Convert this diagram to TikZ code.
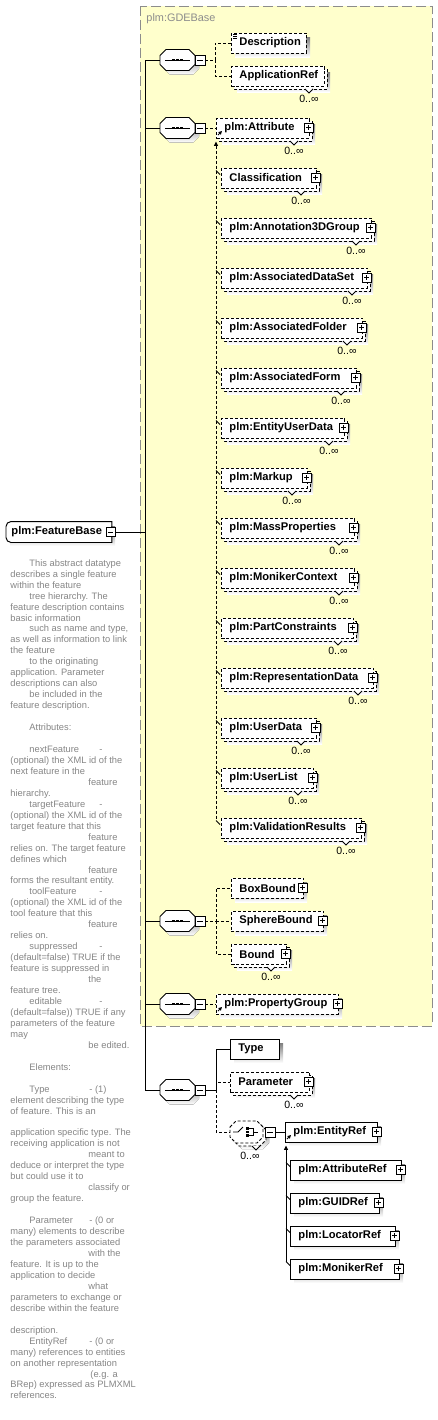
\documentclass[tikz,border=0pt]{standalone}
\usepackage{fontspec}
\setmainfont{Liberation Sans}
\usetikzlibrary{arrows.meta}

\definecolor{gdeyellow}{HTML}{FFFFCC}
\definecolor{gdeframe}{HTML}{8C8C8C}
\definecolor{shade}{HTML}{B4B4B4}
\definecolor{notegray}{HTML}{858585}

\tikzset{
  link/.style={line width=0.55pt},
  optlink/.style={link,dash pattern=on 0.06cm off 0.04cm},
  optional/.style={dash pattern=on 0.06cm off 0.04cm},
  required/.style={solid},
  elem/.style={link,draw,fill=white,minimum height=0.4cm,inner ysep=0pt,inner xsep=0.16cm,
    align=left,font=\bfseries\fontsize{6.35pt}{7pt}\selectfont},
  occurs/.style={inner sep=0pt,font=\fontsize{6pt}{7pt}\selectfont},
  minusbox/.style={link,draw,fill=white,minimum size=0.2cm,inner sep=0pt,
    path picture={\draw[link] ([xshift=0.04cm]path picture bounding box.west) -- ([xshift=-0.04cm]path picture bounding box.east);}},
  plusbox/.style={minusbox,minimum size=0.18cm,
    path picture={\draw[link] ([xshift=0.04cm]path picture bounding box.west) -- ([xshift=-0.04cm]path picture bounding box.east)
      ([yshift=-0.04cm]path picture bounding box.north) -- ([yshift=0.04cm]path picture bounding box.south);}},
  compnode/.style={minimum width=0.7cm,minimum height=0.42cm,inner sep=0pt},
  subtip/.style={{Triangle[width=0.08cm,length=0.09cm]}-},
}

\begin{document}
\begin{tikzpicture}[x=0.02cm,y=-0.02cm,line width=0.55pt]
\useasboundingbox (0,0) rectangle (437,1420);
\def\seqoct{(-17.5,-4.5) -- (-11.5,-10.5) -- (11.5,-10.5) -- (17.5,-4.5) -- (17.5,4.5) -- (11.5,10.5) -- (-11.5,10.5) -- (-17.5,4.5) -- cycle}
\def\choct{(-16.5,-5) -- (-10.5,-11) -- (10.5,-11) -- (16.5,-5) -- (16.5,5) -- (10.5,11) -- (-10.5,11) -- (-16.5,5) -- cycle}
\def\ind{\hspace*{0.38cm}}\def\far{\hspace*{1.56cm}}
\def\attcol#1{\makebox[1.4cm][l]{#1}}\def\elcol#1{\makebox[1.2cm][l]{#1}}
% ---- plm:GDEBase region ----
\fill[gdeyellow] (140,6) rectangle (432,1026);
\draw[gdeframe,dash pattern=on 0.2cm off 0.08cm] (140,6) rectangle (432,1026);
\node[anchor=west,inner sep=0pt,text=gdeframe,font=\fontsize{6.2pt}{7pt}\selectfont] (gde) at (146,19) {plm:GDEBase};
% ---- plm:FeatureBase and its documentation ----
\fill[shade] (10,526) rectangle (115,546);
\node[elem,draw=none,anchor=west,minimum width=2.1cm,text width=1.9cm,inner xsep=0.1cm] (fb) at (6,532) {plm:FeatureBase};
\draw[link] (fb.north east) -- ([xshift=0.1cm]fb.north west) arc[start angle=90,end angle=180,radius=0.1cm]
  -- ([yshift=0.1cm]fb.south west) arc[start angle=180,end angle=270,radius=0.1cm] -- (fb.south east) -- cycle;
\node[minusbox,minimum size=0.18cm] (fb-m) at (110.5,532) {};
\node[anchor=north west,inner sep=0pt,align=left,text=notegray,font=\fontsize{5.3pt}{6.236pt}\selectfont] (fbdoc) at (10,559) {%
\ind This abstract datatype\\
describes a single feature\\
within the feature\\
\ind tree hierarchy. The\\
feature description contains\\
basic information\\
\ind such as name and type,\\
as well as information to link\\
the feature\\
\ind to the originating\\
application. Parameter\\
descriptions can also\\
\ind be included in the\\
feature description.\\
\mbox{}\\
\ind Attributes:\\
\mbox{}\\
\ind\attcol{nextFeature}-\\
(optional) the XML id of the\\
next feature in the\\
\far feature\\
hierarchy.\\
\ind\attcol{targetFeature}-\\
(optional) the XML id of the\\
target feature that this\\
\far feature\\
relies on. The target feature\\
defines which\\
\far feature\\
forms the resultant entity.\\
\ind\attcol{toolFeature}-\\
(optional) the XML id of the\\
tool feature that this\\
\far feature\\
relies on.\\
\ind\attcol{suppressed}-\\
(default=false) TRUE if the\\
feature is suppressed in\\
\far the\\
feature tree.\\
\ind\attcol{editable}-\\
(default=false)) TRUE if any\\
parameters of the feature\\
may\\
\far be edited.\\
\mbox{}\\
\ind Elements:\\
\mbox{}\\
\ind\elcol{Type}- (1)\\
element describing the type\\
of feature. This is an\\
\mbox{}\\
application specific type. The\\
receiving application is not\\
\far meant to\\
deduce or interpret the type\\
but could use it to\\
\far classify or\\
group the feature.\\
\mbox{}\\
\ind\elcol{Parameter}- (0 or\\
many) elements to describe\\
the parameters associated\\
\far with the\\
feature. It is up to the\\
application to decide\\
\far what\\
parameters to exchange or\\
describe within the feature\\
\mbox{}\\
description.\\
\ind\elcol{EntityRef}- (0 or\\
many) references to entities\\
on another representation\\
\far\hspace*{0.04cm}(e.g. a\\
BRep) expressed as PLMXML\\
references.};
% ---- element boxes: name/left/right/y/label/line/multi/plus/ref ----
\foreach \n/\xa/\xb/\yc/\lbl/\ln/\mult/\plus/\rf in {
  desc/231/306/43/Description/optional/0/0/0,
  appref/231/324/76/ApplicationRef/optional/1/0/0,
  attr/216/309/128/plm:Attribute/optional/1/1/1,
  cls/221/316/178/Classification/optional/1/1/0,
  ann/221/371/228/plm:Annotation3DGroup/optional/1/1/0,
  ads/221/367/278/plm:AssociatedDataSet/optional/1/1/0,
  afo/221/362/328/plm:AssociatedFolder/optional/1/1/0,
  afm/221/356/378/plm:AssociatedForm/optional/1/1/0,
  eud/221/344/428/plm:EntityUserData/optional/1/1/0,
  mku/221/307/478/plm:Markup/optional/1/1/0,
  mpr/221/354/528/plm:MassProperties/optional/1/1/0,
  mon/221/354/578/plm:MonikerContext/optional/1/1/0,
  pcs/221/353/628/plm:PartConstraints/optional/1/1/0,
  rep/221/373/678/plm:RepresentationData/optional/1/1/0,
  usd/221/316/728/plm:UserData/optional/1/1/0,
  usl/221/313/778/plm:UserList/optional/1/1/0,
  vrs/221/361/828/plm:ValidationResults/optional/1/1/0,
  bbx/231/303/888/BoxBound/optional/0/1/0,
  sph/231/323/921/SphereBound/optional/0/1/0,
  bnd/231/286/954/Bound/optional/1/1/0,
  pgr/216/338/1004/plm:PropertyGroup/optional/0/1/1,
  typ/230/279/1049/Type/required/0/0/0,
  par/230/309/1082/Parameter/optional/1/1/0,
  ent/285/377/1132/plm:EntityRef/required/0/1/1,
  atr/290/401/1170/plm:AttributeRef/required/0/1/0,
  gid/290/379/1203/plm:GUIDRef/required/0/1/0,
  loc/290/395/1236/plm:LocatorRef/required/0/1/0,
  mnk/290/399/1269/plm:MonikerRef/required/0/1/0}{
  \pgfmathsetmacro\bw{0.02*(\xb-\xa)}
  \pgfmathsetmacro\tw{0.02*(\xb-\xa)-0.32}
  \ifnum\mult=1
    \fill[shade] (\xa+6,\yc-4) rectangle (\xb+6,\yc+16);
    \draw[link,\ln,fill=white] (\xa+3,\yc-7) rectangle (\xb+3,\yc+13);
    \draw[link,fill=white] (\xb-19,\yc+13) -- (\xb-15,\yc+17) -- (\xb-11,\yc+13);
    \node[occurs] (\n-occ) at (\xb-15,\yc+23) {0..∞};
  \else
    \fill[shade] (\xa+4,\yc-6) rectangle (\xb+4,\yc+14);
  \fi
  \node[elem,\ln,anchor=west,minimum width=\bw cm,text width=\tw cm] (\n) at (\xa,\yc) {\mbox{\lbl}};
  \ifnum\plus=1
    \node[plusbox] (\n-plus) at (\xb-0.5,\yc-0.5) {};
  \fi
  \ifnum\rf=1
    \draw[link,-{Triangle[width=0.07cm,length=0.07cm]}] (\xa+2,\yc+7) -- (\xa+6,\yc+3);
  \fi
}
% documentation mark on Description
\draw[line width=0.4pt] (233,34.5) -- (237,34.5) (233,36.5) -- (237,36.5) (233,38.5) -- (237,38.5);
% ---- sequence compositors ----
\foreach \s/\y in {s1/60,s2/128,s3/921,s4/1004,s5/1090}{
  \node[compnode] (\s) at (177.5,\y) {};
  \begin{scope}[shift={(177.5,\y)}]
    \fill[shade,shift={(4,4)}] \seqoct;
    \draw[link,fill=white] \seqoct;
    \draw[link] (-12.5,0) -- (12.5,0);
    \foreach \d in {-4,0,4} \fill (\d-1.3,-1.3) rectangle (\d+1.3,1.3);
  \end{scope}
  \node[minusbox] (\s-m) at (200,\y) {};
}
% ---- choice compositor ----
\node[compnode,minimum width=0.66cm,minimum height=0.44cm] (cho) at (246.5,1132) {};
\begin{scope}[shift={(246.5,1132)}]
  \fill[shade,shift={(6,6)}] \choct;
  \draw[optlink,fill=white,shift={(3,3)}] \choct;
  \draw[optlink,fill=white] \choct;
  \draw[link] (-13.5,0) -- (-8.5,0) -- (-3.5,-5);
  \foreach \d in {-3.5,0,3.5} \fill (-0.5,\d-1.2) rectangle (2,\d+1.2);
  \draw[link] (2.5,-3.5) -- (7,-3.5) -- (7,3.5) -- (2.5,3.5) (7,0) -- (11.5,0);
  \draw[link,fill=white] (5.5,14) -- (9.5,18) -- (13.5,14);
\end{scope}
\node[occurs] (cho-occ) at (250,1156) {0..∞};
\node[minusbox] (cho-m) at (270,1132) {};
% ---- connectors ----
\draw[link] (fb-m.east) -- (145,532) coordinate (hub);
\draw[link] (hub |- s1.west) -- (hub |- s5.west);
\foreach \s in {s1,s2,s3,s4,s5} \draw[link] (hub |- \s.west) -- (\s.west);
\draw[optlink] (s1-m.east) -- ++(10,0) coordinate (j1) |- (desc.west);
\draw[optlink] (j1) |- (appref.west);
\draw[optlink] (s2-m.east) -- (attr.west);
\draw[optlink] (s3-m.east) -- ++(11,0) coordinate (j3) |- (bbx.west);
\draw[optlink] (j3) -- (sph.west);
\draw[optlink] (j3) |- (bnd.west);
\draw[optlink] (s4-m.east) -- (pgr.west);
\draw[link] (s5-m.east) -- ++(11,0) coordinate (j5) |- (typ.west);
\draw[optlink] (j5) |- (par.west);
\draw[optlink] (j5) |- (cho.west);
\draw[link] (cho-m.east) -- (ent.west);
% substitution groups
\draw[optlink,subtip] ([yshift=-0.06cm]attr.south west) -- ([shift={(-5,3)}]vrs.north west);
\foreach \n in {cls,ann,ads,afo,afm,eud,mku,mpr,mon,pcs,rep,usd,usl,vrs}
  \draw[link] ([shift={(-5,3)}]\n.north west) -- ([shift={(-1,7)}]\n.north west);
\draw[link,subtip] ([shift={(1,3)}]ent.south west) -- ([shift={(-4,3)}]mnk.north west);
\foreach \n in {atr,gid,loc,mnk}
  \draw[link] ([shift={(-4,3)}]\n.north west) -- ([shift={(0,7)}]\n.north west);
\end{tikzpicture}
\end{document}
